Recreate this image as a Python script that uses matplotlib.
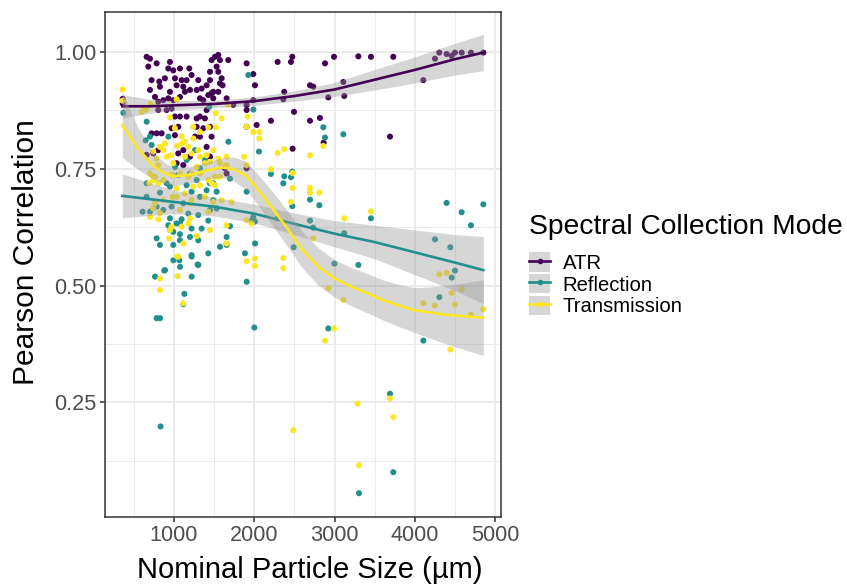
import numpy as np
import matplotlib
matplotlib.use("Agg")
import matplotlib.pyplot as plt
from matplotlib.lines import Line2D
from matplotlib.patches import Patch

plt.rcParams['font.family'] = ['Liberation Sans', 'DejaVu Sans']

modes = ["ATR", "Reflection", "Transmission"]
colors = ["#440154", "#21908C", "#FDE725"]

# points (particle size um, pearson r)
atr_pts = [
    (361, 0.890), (361, 0.900),
    (659, 0.990), (701, 0.986), (784, 0.976), (680, 0.969), (950, 0.979), (929, 0.965), (991, 0.961),
    (1074, 0.965), (1190, 0.965), (1012, 0.944), (1095, 0.940), (1157, 0.940), (1219, 0.951), (1302, 0.940),
    (721, 0.940), (817, 0.937), (887, 0.944), (1033, 0.929), (1116, 0.926), (825, 0.926), (950, 0.915),
    (701, 0.919), (763, 0.904), (804, 0.894), (867, 0.897), (929, 0.901), (991, 0.897), (1074, 0.904),
    (1136, 0.915), (1199, 0.919), (1282, 0.919), (1344, 0.922), (1406, 0.929), (1468, 0.912), (1489, 0.915),
    (1572, 0.933), (1593, 0.944), (1605, 0.929), (1448, 0.958), (1531, 0.969), (1551, 0.958), (1468, 0.983),
    (1510, 0.990), (1551, 0.994), (1572, 0.983), (1676, 0.983), (1904, 0.976), (1987, 0.953), (1448, 0.940),
    (1323, 0.901), (1365, 0.897), (1427, 0.908), (1489, 0.901), (1551, 0.915), (1655, 0.901), (1738, 0.887),
    (1904, 0.887), (1904, 0.876), (1987, 0.897),
    (804, 0.876), (908, 0.876), (970, 0.879), (1012, 0.862), (1074, 0.862), (1157, 0.862), (1282, 0.858),
    (1323, 0.862), (1406, 0.876), (1385, 0.858), (970, 0.837), (1053, 0.840), (1012, 0.822), (1282, 0.840),
    (1365, 0.837), (1448, 0.840), (1323, 0.819), (1468, 0.819), (1261, 0.819), (721, 0.826), (784, 0.826),
    (846, 0.826), (659, 0.780), (742, 0.783), (804, 0.790), (1053, 0.783), (1116, 0.790), (1406, 0.797),
    (1448, 0.776), (1199, 0.776), (1033, 0.762), (1116, 0.758), (1634, 0.751), (1655, 0.740), (1904, 0.751),
    (1904, 0.840), (2029, 0.844),
    (2290, 0.979), (2456, 0.979), (2473, 0.990), (2880, 0.976), (2992, 0.990), (3295, 0.991), (3452, 0.990),
    (3730, 0.990), (4249, 0.986), (4303, 0.999), (4394, 0.996), (4457, 0.992), (4498, 0.999), (4581, 0.999),
    (4697, 0.999), (4851, 0.999), (4104, 0.940), (2693, 0.929), (2734, 0.926), (3108, 0.936), (2373, 0.915),
    (2361, 0.899), (2921, 0.903), (3120, 0.906), (2494, 0.872), (2207, 0.853), (2693, 0.853), (2817, 0.859),
    (3689, 0.819), (2477, 0.793), (2863, 0.806), (2008, 0.929),
]

refl_pts = [
    (369, 0.870), (660, 0.851), (1440, 0.883), (1925, 0.951), (1988, 0.877), (647, 0.811), (701, 0.819),
    (721, 0.801), (930, 0.819), (1677, 0.808), (2058, 0.787), (1262, 0.790), (1158, 0.769), (1386, 0.769),
    (1013, 0.754), (2859, 0.839), (2880, 0.817), (3108, 0.824), (2207, 0.739), (2373, 0.734), (2473, 0.744),
    (2456, 0.732), (2361, 0.719),
    (659, 0.719), (659, 0.690), (825, 0.699), (908, 0.719), (950, 0.712), (1053, 0.737), (1199, 0.740),
    (1323, 0.751), (1448, 0.719), (1531, 0.701), (1282, 0.726), (1157, 0.715), (1219, 0.701), (1406, 0.704),
    (1489, 0.719), (1489, 0.683), (1323, 0.690), (1116, 0.676), (970, 0.669), (867, 0.662), (784, 0.669),
    (609, 0.658), (701, 0.658), (1178, 0.654), (1302, 0.651), (1448, 0.662), (1531, 0.665), (1033, 0.633),
    (950, 0.644), (1074, 0.633), (929, 0.629), (1095, 0.642), (1427, 0.639), (1697, 0.627), (1966, 0.639),
    (1987, 0.647), (950, 0.619), (991, 0.615), (1074, 0.610), (1219, 0.622), (1344, 0.622), (784, 0.601),
    (825, 0.587), (991, 0.587), (1074, 0.597), (1199, 0.604), (1302, 0.597), (1655, 0.604), (1572, 0.583),
    (1427, 0.569), (1219, 0.565), (1883, 0.569), (1655, 0.587), (1697, 0.729), (1905, 0.701), (2009, 0.590),
    (992, 0.554), (1075, 0.540), (1303, 0.544), (1220, 0.562), (888, 0.533), (764, 0.519), (1220, 0.519),
    (1129, 0.482), (1116, 0.460), (784, 0.430), (826, 0.430), (1905, 0.508), (2000, 0.410), (833, 0.198),
    (1066, 0.554), (1294, 0.545), (879, 0.532),
    (2290, 0.644), (2473, 0.670), (2693, 0.684), (2809, 0.672), (2693, 0.639), (2734, 0.624), (3120, 0.612),
    (3452, 0.644), (2489, 0.582), (2996, 0.547), (3295, 0.544), (4394, 0.677), (4581, 0.657), (4851, 0.674),
    (4697, 0.629), (4249, 0.599), (4440, 0.582), (4498, 0.532), (4457, 0.517), (4303, 0.475), (2921, 0.408),
    (4104, 0.382), (3689, 0.268), (3730, 0.100), (3303, 0.055), (2008, 0.637),
]

trans_pts = [
    (360, 0.920), (360, 0.896), (618, 0.876), (651, 0.877), (709, 0.889), (597, 0.872), (1033, 0.899),
    (950, 0.860), (1012, 0.837), (1240, 0.840), (1323, 0.829), (1427, 0.839), (1522, 0.869), (1593, 0.858),
    (1522, 0.839), (1676, 0.887), (1917, 0.862), (1904, 0.840), (1987, 0.829), (2062, 0.829), (2062, 0.815),
    (2290, 0.784), (2373, 0.792), (2693, 0.779), (2859, 0.799), (2207, 0.749), (2477, 0.741), (2477, 0.709),
    (2693, 0.709), (2693, 0.699), (2809, 0.699), (2456, 0.679),
    (1095, 0.819), (1095, 0.804), (1178, 0.797), (1240, 0.815), (1136, 0.808), (1041, 0.799), (887, 0.804),
    (825, 0.797), (742, 0.787), (867, 0.790), (908, 0.776), (958, 0.779), (784, 0.772), (804, 0.758),
    (991, 0.762), (1136, 0.776), (1219, 0.783), (1302, 0.790), (1406, 0.779), (1489, 0.790), (1551, 0.772),
    (1655, 0.776), (1323, 0.776), (1385, 0.762), (1448, 0.765), (1572, 0.762), (1655, 0.758), (1871, 0.776),
    (1904, 0.758), (1282, 0.754), (1219, 0.740), (1074, 0.740), (970, 0.737), (701, 0.740), (742, 0.733),
    (742, 0.726), (804, 0.719), (867, 0.726), (1323, 0.740), (1427, 0.726), (1510, 0.733), (1572, 0.733),
    (1510, 0.715), (1323, 0.715), (1178, 0.733), (1033, 0.708), (1136, 0.697), (1033, 0.690), (983, 0.690),
    (867, 0.683), (763, 0.676), (742, 0.665), (825, 0.655), (701, 0.647), (804, 0.642), (1074, 0.662),
    (1199, 0.676), (1219, 0.683), (1385, 0.690), (1489, 0.679), (1593, 0.683), (1717, 0.679), (1427, 0.658),
    (950, 0.619), (970, 0.626), (1095, 0.626), (1178, 0.633), (1199, 0.644), (1448, 0.619), (1655, 0.629),
    (1904, 0.640), (1966, 0.633), (941, 0.601), (1116, 0.590), (1282, 0.606), (1655, 0.590), (1053, 0.562),
    (1241, 0.712), (1469, 0.719), (764, 0.733), (693, 0.719),
    (3120, 0.644), (3452, 0.659), (2734, 0.601), (2361, 0.559), (2361, 0.537), (2008, 0.558), (2008, 0.542),
    (2921, 0.494), (3108, 0.469), (2992, 0.408), (2880, 0.382), (4104, 0.462), (4249, 0.457), (4303, 0.524),
    (4394, 0.527), (4457, 0.484), (4581, 0.492), (4498, 0.459), (4697, 0.437), (4851, 0.449), (4440, 0.363),
    (1041, 0.562), (1045, 0.520), (825, 0.515), (825, 0.490), (1116, 0.462), (1904, 0.552), (3286, 0.247),
    (3689, 0.258), (3730, 0.218), (2485, 0.190), (3303, 0.115),
]

# smoothed fits with their standard error half width
atr_fit_x = [357, 700, 1000, 1500, 2000, 2500, 3000, 3500, 4000, 4500, 4851]
atr_fit_y = [0.884, 0.884, 0.886, 0.889, 0.895, 0.906, 0.920, 0.941, 0.962, 0.985, 0.999]
atr_fit_se = [0.025, 0.015, 0.010, 0.008, 0.009, 0.011, 0.015, 0.022, 0.028, 0.034, 0.039]

refl_fit_x = [357, 1000, 1500, 2000, 2500, 3000, 3500, 4000, 4500, 4851]
refl_fit_y = [0.692, 0.679, 0.669, 0.654, 0.632, 0.611, 0.593, 0.571, 0.549, 0.533]
refl_fit_se = [0.047, 0.025, 0.020, 0.020, 0.023, 0.028, 0.036, 0.048, 0.060, 0.072]

trans_fit_x = [357, 550, 750, 900, 1000, 1200, 1400, 1600, 1750, 1900, 2000, 2200, 2400, 2600, 2800,
               3000, 3200, 3400, 3600, 3800, 4000, 4400, 4851]
trans_fit_y = [0.844, 0.794, 0.755, 0.739, 0.734, 0.737, 0.746, 0.753, 0.749, 0.735, 0.715, 0.671, 0.625,
               0.576, 0.540, 0.515, 0.498, 0.484, 0.469, 0.457, 0.447, 0.437, 0.431]
trans_fit_se = [0.070, 0.045, 0.028, 0.022, 0.020, 0.018, 0.018, 0.021, 0.026, 0.030, 0.032, 0.036, 0.038,
                0.039, 0.040, 0.040, 0.041, 0.042, 0.043, 0.045, 0.048, 0.063, 0.081]

points = [atr_pts, refl_pts, trans_pts]
fits = [(atr_fit_x, atr_fit_y, atr_fit_se),
        (refl_fit_x, refl_fit_y, refl_fit_se),
        (trans_fit_x, trans_fit_y, trans_fit_se)]

fig = plt.figure(figsize=(8.47, 5.84), dpi=100)
ax = fig.add_axes([105 / 847, 67 / 584, 396 / 847, 505 / 584])

for pts, c in zip(points, colors):
    p = np.array(pts)
    ax.scatter(p[:, 0], p[:, 1], s=19, color=c, edgecolors='none', zorder=2)

z = 3
for (fx, fy, se), c in zip(fits, colors):
    fx = np.array(fx); fy = np.array(fy); se = np.array(se)
    ax.fill_between(fx, fy - se, fy + se, color='#999999', alpha=0.4, lw=0, zorder=z)
    ax.plot(fx, fy, color=c, lw=1.9, zorder=z + 1)
    z += 2

ax.set_xlim(141, 5071)
ax.set_ylim(0.004, 1.086)
ax.set_xticks([1000, 2000, 3000, 4000, 5000])
ax.set_xticks([500, 1500, 2500, 3500, 4500], minor=True)
ax.set_yticks([0.25, 0.50, 0.75, 1.00])
ax.set_yticklabels(["0.25", "0.50", "0.75", "1.00"])
ax.set_yticks([0.125, 0.375, 0.625, 0.875], minor=True)

ax.set_axisbelow(True)
ax.grid(which='major', color='#EBEBEB', lw=1.4)
ax.grid(which='minor', color='#EBEBEB', lw=0.7)
for sp in ax.spines.values():
    sp.set_color('#333333')
    sp.set_linewidth(1.1)
ax.tick_params(which='major', length=3.5, width=1.1, color='#333333',
               labelcolor='#4D4D4D', labelsize=15.6, pad=2.5)
ax.tick_params(which='minor', length=0)

ax.set_xlabel("Nominal Particle Size (µm)", fontsize=21)
ax.set_ylabel("Pearson Correlation", fontsize=21.5)
ax.xaxis.label.set_va('center')
ax.yaxis.label.set_va('center')
ax.xaxis.set_label_coords(0.518, -0.105)
ax.yaxis.set_label_coords(-0.199, 0.525)

handles = []
for c in colors:
    handles.append((Patch(facecolor='#999999', alpha=0.4, edgecolor='none'),
                    Line2D([], [], color=c, lw=1.9, marker='o', markersize=4, markeredgewidth=0)))
leg = fig.legend(handles, modes, title="Spectral Collection Mode", loc='center left',
                 bbox_to_anchor=(529 / 847, 1 - 265 / 584), frameon=False, fontsize=14.6,
                 title_fontsize=20.3, handlelength=1.05, handleheight=1.1, labelspacing=0.05,
                 handletextpad=0.6, borderpad=0, borderaxespad=0, alignment='left')
leg._legend_box.sep = 9

fig.savefig("out.png", dpi=100)
